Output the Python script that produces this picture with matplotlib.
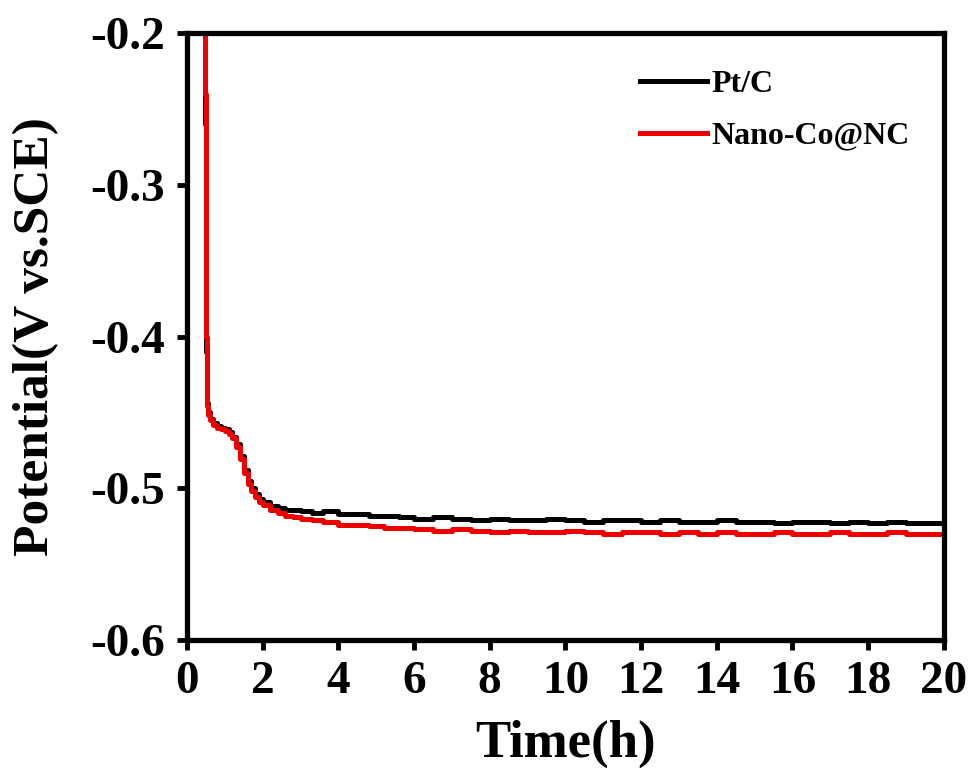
import matplotlib.pyplot as plt
import numpy as np

plt.rcParams['font.family'] = ['Liberation Serif', 'DejaVu Serif']
plt.rcParams['font.weight'] = 'bold'
plt.rcParams['axes.unicode_minus'] = False

# chronopotentiometry, time in hours
time_h = [0.44, 0.47, 0.49, 0.51, 0.53, 0.56, 0.62, 0.70, 0.80, 0.90, 1.00,
          1.10, 1.20, 1.30, 1.40, 1.50, 1.60, 1.70, 1.80, 1.90, 2.00, 2.20,
          2.40, 2.60, 2.80, 3.00, 3.30, 3.60, 4.00, 4.40, 4.80, 5.20, 5.60,
          6.00, 6.50, 7.00, 7.50, 8.00, 8.50, 9.00, 9.50, 10.0, 10.5, 11.0,
          11.5, 12.0, 12.5, 13.0, 13.5, 14.0, 14.5, 15.0, 15.5, 16.0, 16.5,
          17.0, 17.5, 18.0, 18.5, 19.0, 19.5, 20.0]

pt_c = [-0.15, -0.26, -0.34, -0.41, -0.444, -0.450, -0.454, -0.457, -0.459,
        -0.460, -0.461, -0.463, -0.466, -0.471, -0.479, -0.488, -0.495,
        -0.500, -0.504, -0.507, -0.509, -0.512, -0.513, -0.514, -0.514,
        -0.515, -0.516, -0.515, -0.517, -0.517, -0.518, -0.518, -0.519,
        -0.520, -0.519, -0.520, -0.521, -0.520, -0.521, -0.521, -0.520,
        -0.521, -0.522, -0.521, -0.521, -0.522, -0.521, -0.522, -0.522,
        -0.521, -0.522, -0.522, -0.523, -0.522, -0.522, -0.523, -0.522,
        -0.523, -0.522, -0.523, -0.523, -0.523]

nano_co = [-0.13, -0.24, -0.33, -0.40, -0.446, -0.452, -0.455, -0.458,
           -0.460, -0.461, -0.462, -0.464, -0.467, -0.473, -0.481, -0.490,
           -0.497, -0.502, -0.506, -0.509, -0.511, -0.514, -0.516, -0.518,
           -0.519, -0.520, -0.521, -0.522, -0.524, -0.524, -0.525, -0.526,
           -0.526, -0.527, -0.528, -0.527, -0.528, -0.529, -0.528, -0.529,
           -0.529, -0.528, -0.529, -0.530, -0.529, -0.529, -0.530, -0.529,
           -0.530, -0.529, -0.530, -0.530, -0.529, -0.530, -0.530, -0.529,
           -0.530, -0.530, -0.529, -0.530, -0.530, -0.531]

fig = plt.figure(figsize=(9.74, 7.72), dpi=100)
ax = fig.add_axes([0.192, 0.171, 0.777, 0.786])

ax.plot(time_h, pt_c, color='black', lw=3.6, drawstyle='steps-post', label='Pt/C')
ax.plot(time_h, nano_co, color='#ee0000', lw=3.6, drawstyle='steps-post', label='Nano-Co@NC')

ax.set_xlim(0, 20)
ax.set_ylim(-0.6, -0.2)
ax.set_xticks(np.arange(0, 21, 2))
ax.set_yticks([-0.6, -0.5, -0.4, -0.3, -0.2])
ax.set_yticklabels(['-0.6', '-0.5', '-0.4', '-0.3', '-0.2'])

for s in ax.spines.values():
    s.set_linewidth(3.8)
ax.tick_params(direction='out', length=7, width=3.5, labelsize=34)
ax.tick_params(axis='x', pad=8)
ax.tick_params(axis='y', pad=9)
for lab in ax.get_xticklabels() + ax.get_yticklabels():
    lab.set_fontweight('bold')

ax.set_xlabel('Time(h)', fontsize=38, fontweight='bold', labelpad=12)
ax.set_ylabel('Potential(V vs.SCE)', fontsize=37, fontweight='bold', labelpad=22)

leg = ax.legend(loc='upper left', bbox_to_anchor=(0.598, 0.94), frameon=False,
                prop={'size': 23, 'weight': 'bold'}, handlelength=2.1,
                handletextpad=0.15, labelspacing=0.7, borderpad=0,
                borderaxespad=0)

fig.savefig('out.png', dpi=100)
